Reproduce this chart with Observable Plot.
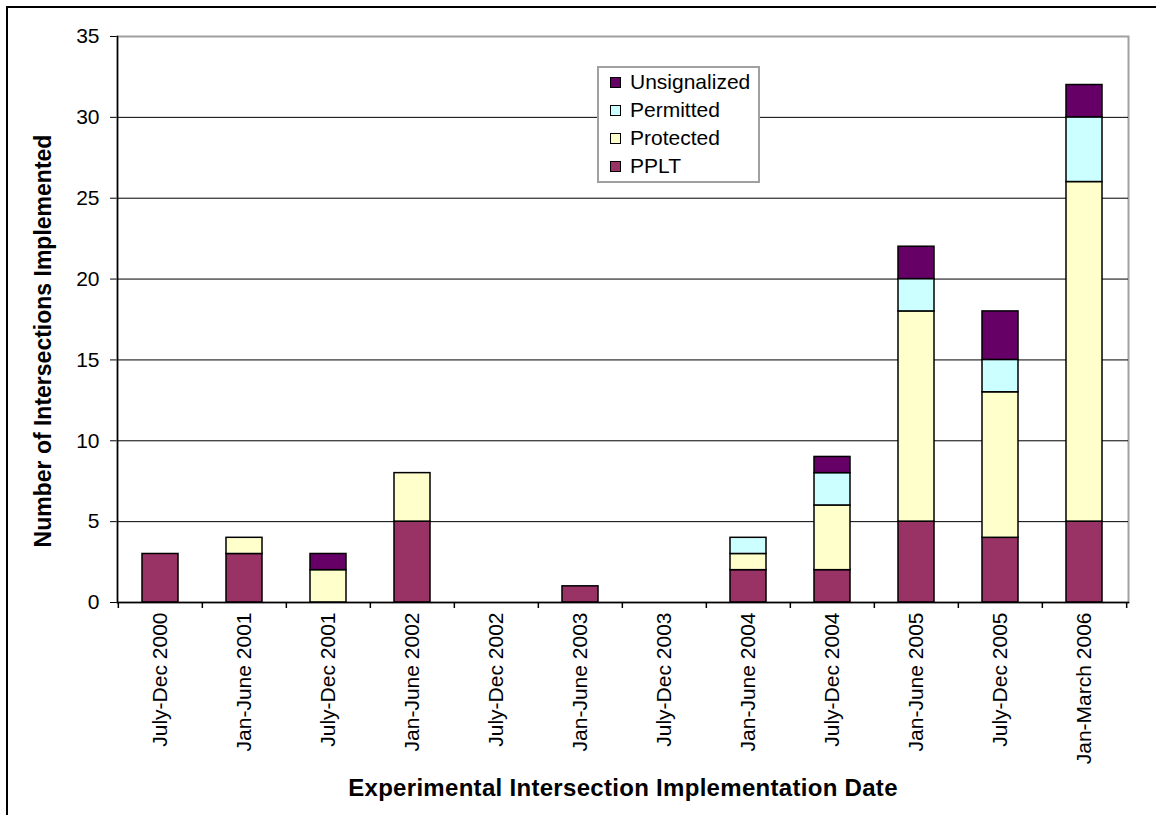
<!DOCTYPE html>
<html>
<head>
<meta charset="utf-8">
<script src="https://cdn.jsdelivr.net/npm/d3@7"></script>
<script src="https://cdn.jsdelivr.net/npm/@observablehq/plot@0.6"></script>
<style>
  html, body { margin: 0; padding: 0; background: #fff; }
  #wrap { position: relative; width: 1156px; height: 815px; overflow: hidden; font-family: "Liberation Sans", Arial, sans-serif; color: #000; }
  #border { position: absolute; left: 6px; top: 6px; width: 1300px; height: 1000px; border-left: 2px solid #000; border-top: 2px solid #000; pointer-events: none; }
  #chart { position: absolute; left: 0; top: 0; }
  #ytitle { position: absolute; left: 43px; top: 341px; transform: translate(-50%, -50%) rotate(-90deg); white-space: nowrap; font-weight: bold; font-size: 23px; }
  #xtitle { position: absolute; left: 623px; top: 788px; transform: translate(-50%, -50%); white-space: nowrap; font-weight: bold; font-size: 24px; letter-spacing: 0.3px; }
  #legend { position: absolute; left: 597px; top: 66px; width: 163px; height: 117px; border: 2px solid #a0a0a0; background: #fff; box-sizing: border-box; }
  .item { position: absolute; left: 11px; height: 24px; line-height: 24px; font-size: 21px; white-space: nowrap; }
  .sw { display: inline-block; width: 9px; height: 9px; border: 1.5px solid #000; margin-right: 9px; vertical-align: 1px; }
</style>
</head>
<body>
<div id="wrap">
  <div id="chart"></div>
  <div id="border"></div>
  <div id="ytitle"></div>
  <div id="xtitle"></div>
  <div id="legend"></div>
</div>
<script>
const categories = ["July-Dec 2000","Jan-June 2001","July-Dec 2001","Jan-June 2002","July-Dec 2002","Jan-June 2003","July-Dec 2003","Jan-June 2004","July-Dec 2004","Jan-June 2005","July-Dec 2005","Jan-March 2006"];
const series = ["PPLT","Protected","Permitted","Unsignalized"];
const pplt         = [3,3,0,5,0,1,0,2,2,5,4,5];
const protectedV   = [0,1,2,3,0,0,0,1,4,13,9,21];
const permitted    = [0,0,0,0,0,0,0,1,2,2,2,4];
const unsignalized = [0,0,1,0,0,0,0,0,1,2,3,2];
const colors = ["#993366","#FFFFCC","#CCFFFF","#660066"];
const yTicks = [0,5,10,15,20,25,30,35];
const gridValues = [5,10,15,20,25,30];
const yTitle = "Number of Intersections Implemented";
const xTitle = "Experimental Intersection Implementation Date";
const legendOrder = ["Unsignalized","Permitted","Protected","PPLT"];

const valuesBySeries = [pplt, protectedV, permitted, unsignalized];
const rows = [];
categories.forEach((c, i) => {
  valuesBySeries.forEach((arr, j) => {
    if (arr[i] > 0) rows.push({period: c, type: series[j], value: arr[i]});
  });
});

const plot = Plot.plot({
  width: 1156,
  height: 815,
  marginLeft: 117,
  marginRight: 28,
  marginTop: 36,
  marginBottom: 213,
  style: {fontFamily: "'Liberation Sans', Arial, sans-serif", fontSize: "21px", color: "#000", background: "transparent", overflow: "visible"},
  x: {domain: categories, paddingInner: 0.57, paddingOuter: 0.285, label: null, tickSize: 0, tickRotate: -90, tickPadding: 10},
  y: {domain: [0, 35], ticks: yTicks, label: null, tickSize: 7, tickPadding: 11},
  color: {domain: series, range: colors},
  marks: [
    Plot.frame({stroke: "#a0a0a0", strokeWidth: 2}),
    Plot.ruleY(gridValues, {stroke: "#000", strokeWidth: 1}),
    Plot.barY(rows, {x: "period", y: "value", fill: "type", stroke: "#000", strokeWidth: 1.5, order: series}),
    Plot.frame({anchor: "left", stroke: "#000", strokeWidth: 1.5}),
    Plot.frame({anchor: "bottom", stroke: "#000", strokeWidth: 1.5}),
    Plot.ruleX(categories, {x: d => d, dx: -84.33/2, insetTop: 566, insetBottom: -6, stroke: "#000", strokeWidth: 1.5}),
    Plot.ruleX(categories.slice(-1), {x: d => d, dx: 84.33/2, insetTop: 566, insetBottom: -6, stroke: "#000", strokeWidth: 1.5})
  ]
});
document.getElementById("chart").appendChild(plot);

document.getElementById("ytitle").textContent = yTitle;
document.getElementById("xtitle").textContent = xTitle;
const legend = document.getElementById("legend");
legendOrder.forEach((name, k) => {
  const it = document.createElement("div");
  it.className = "item";
  it.style.top = (2 + k * 28) + "px";
  const sw = document.createElement("span");
  sw.className = "sw";
  sw.style.background = colors[series.indexOf(name)];
  it.appendChild(sw);
  it.appendChild(document.createTextNode(name));
  legend.appendChild(it);
});
</script>
</body>
</html>
